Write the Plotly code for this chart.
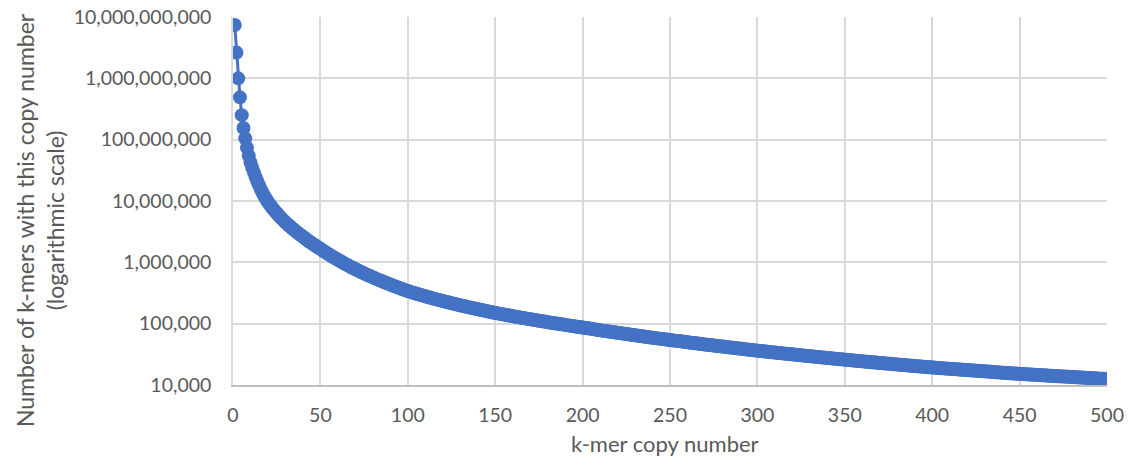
import plotly.graph_objects as go

# k-mer copy number (x) and number of k-mers with that copy number (y)
COPY_NUMBER = list(range(1, 501))
KMER_COUNTS = [
    7410000000, 2630000000, 1000000000, 490000000, 251000000, 155000000, 105000000, 74100000, 55000000, 42700000,
    34900000, 29000000, 24300000, 20600000, 17700000, 15300000, 13500000, 11900000, 10700000, 9640000,
    8790000, 8050000, 7410000, 6840000, 6340000, 5890000, 5480000, 5120000, 4790000, 4490000,
    4230000, 3980000, 3760000, 3560000, 3370000, 3200000, 3030000, 2880000, 2750000, 2620000,
    2490000, 2370000, 2250000, 2150000, 2060000, 1970000, 1880000, 1800000, 1730000, 1660000,
    1590000, 1520000, 1455000, 1396000, 1340000, 1285000, 1236000, 1189000, 1143000, 1102000,
    1060000, 1022000, 985000, 950000, 917000, 885000, 855000, 826000, 799000, 773000,
    748000, 724000, 702000, 680000, 660000, 640000, 621000, 603000, 585000, 568000,
    553000, 537000, 522000, 508000, 495000, 481000, 469000, 457000, 445000, 434000,
    423000, 412000, 402000, 392000, 383000, 374000, 365000, 356000, 348000, 340000,
    333300, 326700, 320300, 313900, 307700, 301700, 295700, 289900, 284200, 278600,
    273770, 269020, 264360, 259770, 255270, 250840, 246490, 242220, 238020, 233900,
    230160, 226490, 222870, 219310, 215800, 212350, 208960, 205620, 202340, 199100,
    196190, 193310, 190480, 187700, 184950, 182240, 179570, 176950, 174360, 171800,
    169440, 167110, 164810, 162550, 160320, 158110, 155940, 153800, 151690, 149600,
    147780, 145990, 144220, 142470, 140740, 139030, 137340, 135670, 134020, 132400,
    130880, 129390, 127910, 126440, 124990, 123560, 122150, 120750, 119370, 118000,
    116730, 115480, 114230, 113000, 111790, 110590, 109400, 108220, 107060, 105900,
    104810, 103730, 102670, 101610, 100570, 99530, 98510, 97500, 96500, 95500,
    94580, 93670, 92770, 91880, 91000, 90120, 89250, 88390, 87540, 86700,
    85810, 84930, 84060, 83190, 82340, 81490, 80660, 79830, 79010, 78200,
    77450, 76700, 75960, 75240, 74510, 73800, 73090, 72390, 71690, 71000,
    70330, 69670, 69020, 68370, 67730, 67090, 66460, 65840, 65220, 64600,
    64020, 63440, 62870, 62300, 61740, 61180, 60630, 60080, 59540, 59000,
    58500, 58010, 57520, 57030, 56550, 56070, 55600, 55130, 54660, 54200,
    53740, 53290, 52840, 52400, 51960, 51520, 51080, 50650, 50230, 49800,
    49380, 48970, 48560, 48160, 47760, 47360, 46960, 46570, 46180, 45800,
    45440, 45080, 44720, 44370, 44010, 43670, 43320, 42980, 42640, 42300,
    41980, 41660, 41350, 41030, 40720, 40410, 40110, 39800, 39500, 39200,
    38900, 38600, 38310, 38020, 37730, 37440, 37150, 36870, 36580, 36300,
    36040, 35790, 35530, 35280, 35030, 34780, 34530, 34290, 34040, 33800,
    33570, 33350, 33120, 32900, 32680, 32460, 32240, 32030, 31810, 31600,
    31380, 31170, 30950, 30740, 30530, 30320, 30120, 29910, 29710, 29500,
    29300, 29110, 28920, 28720, 28530, 28340, 28150, 27970, 27780, 27600,
    27430, 27250, 27080, 26910, 26740, 26570, 26400, 26230, 26070, 25900,
    25740, 25570, 25410, 25250, 25090, 24930, 24770, 24610, 24460, 24300,
    24160, 24010, 23870, 23730, 23590, 23450, 23310, 23170, 23040, 22900,
    22770, 22630, 22500, 22370, 22240, 22110, 21980, 21850, 21720, 21600,
    21480, 21350, 21230, 21110, 20990, 20870, 20750, 20630, 20520, 20400,
    20290, 20180, 20060, 19950, 19840, 19730, 19620, 19510, 19410, 19300,
    19210, 19120, 19020, 18930, 18840, 18750, 18660, 18580, 18490, 18400,
    18310, 18220, 18130, 18040, 17950, 17860, 17770, 17680, 17590, 17500,
    17420, 17340, 17250, 17170, 17090, 17010, 16930, 16850, 16780, 16700,
    16620, 16540, 16460, 16370, 16290, 16210, 16130, 16050, 15980, 15900,
    15830, 15760, 15690, 15610, 15540, 15470, 15410, 15340, 15270, 15200,
    15140, 15080, 15020, 14960, 14900, 14840, 14780, 14720, 14660, 14600,
    14540, 14480, 14420, 14360, 14290, 14230, 14170, 14120, 14060, 14000,
    13950, 13900, 13850, 13800, 13750, 13700, 13650, 13600, 13550, 13500,
    13450, 13400, 13350, 13300, 13240, 13190, 13140, 13090, 13050, 13000,
    12950, 12900, 12850, 12800, 12750, 12700, 12650, 12600, 12550, 12500,
]

X_TICK_VALUES = [0, 50, 100, 150, 200, 250, 300, 350, 400, 450, 500]
Y_TICK_VALUES = [1e4, 1e5, 1e6, 1e7, 1e8, 1e9, 1e10]
Y_TICK_LABELS = ["10,000", "100,000", "1,000,000", "10,000,000",
                 "100,000,000", "1,000,000,000", "10,000,000,000"]

X_TITLE = "k-mer copy number"
Y_TITLE = "Number of k-mers with this copy number<br>(logarithmic scale)"

BLUE = "#4472C4"
GRID = "#D9D9D9"
TEXT = "#595959"
FONT = "Lato"

fig = go.Figure()
fig.add_trace(go.Scatter(
    x=COPY_NUMBER, y=KMER_COUNTS, mode="lines+markers",
    line=dict(color=BLUE, width=3),
    marker=dict(color=BLUE, size=14),
    showlegend=False,
))

fig.update_layout(
    width=1139, height=470, autosize=False,
    margin=dict(l=233, r=32, t=17, b=85, pad=0),
    paper_bgcolor="white", plot_bgcolor="white",
    font=dict(family=FONT, size=19, color=TEXT),
)
fig.update_xaxes(
    range=[0, 500], tickvals=X_TICK_VALUES, automargin=False,
    showgrid=True, gridcolor=GRID, gridwidth=1.5,
    showline=True, linecolor="#BFBFBF", linewidth=1.5,
    zeroline=False, ticks="", ticklabelstandoff=12,
    tickfont=dict(family=FONT, size=19.5, color=TEXT),
)
fig.update_yaxes(
    type="log", range=[4, 10], automargin=False,
    tickvals=Y_TICK_VALUES, ticktext=Y_TICK_LABELS,
    showgrid=True, gridcolor=GRID, gridwidth=1.5,
    showline=True, linecolor=GRID, linewidth=1.5,
    zeroline=False, ticks="", ticklabelstandoff=16,
    tickfont=dict(family=FONT, size=19.5, color=TEXT),
)

fig.add_annotation(
    text=X_TITLE, xref="paper", yref="paper",
    x=(665 - 233) / 874, y=(385 - 443) / 368,
    xanchor="center", yanchor="middle", showarrow=False,
    font=dict(family=FONT, size=22, color=TEXT),
)
fig.add_annotation(
    text=Y_TITLE, xref="paper", yref="paper",
    x=(40 - 233) / 874, y=(385 - 220) / 368,
    xanchor="center", yanchor="middle", showarrow=False, textangle=-90,
    font=dict(family=FONT, size=23, color=TEXT),
)

fig.write_html(
    "out.html",
    config={"displayModeBar": False},
    post_script="document.body.style.margin='0';document.body.style.overflow='hidden';",
)
